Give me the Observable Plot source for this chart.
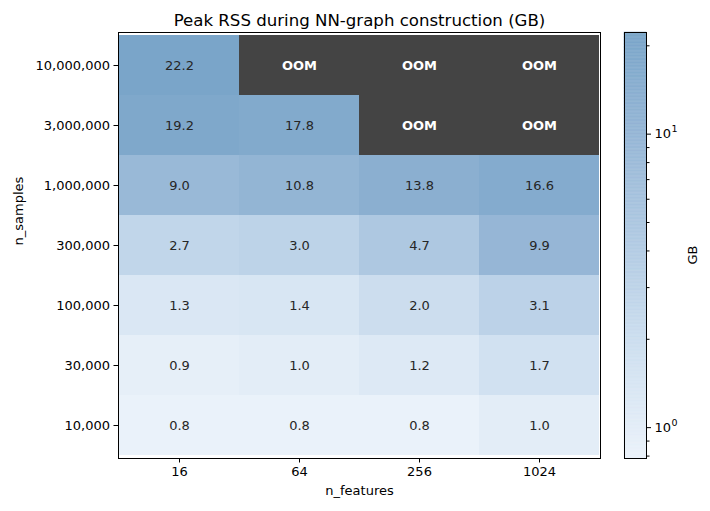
<!DOCTYPE html>
<html>
<head>
<meta charset="utf-8">
<script src="https://cdn.jsdelivr.net/npm/d3@7"></script>
<script src="https://cdn.jsdelivr.net/npm/@observablehq/plot@0.6"></script>
<style>
  body { margin: 0; background: #fff; }
  #chart { position: relative; width: 710px; height: 511px; font-family: "DejaVu Sans", sans-serif; }
  #chart svg { position: absolute; left: 0; top: 0; }
</style>
</head>
<body>
<div id="chart"></div>
<script>
// Grid axes
const features = ["16", "64", "256", "1024"];
const samples = [10000000, 3000000, 1000000, 300000, 100000, 30000, 10000];

// Peak RSS (GB) per n_samples row, one value per n_features column; null = out of memory
const rss10M  = [22.2, null, null, null];
const rss3M   = [19.2, 17.8, null, null];
const rss1M   = [9.0, 10.8, 13.8, 16.6];
const rss300k = [2.7, 3.0, 4.7, 9.9];
const rss100k = [1.3, 1.4, 2.0, 3.1];
const rss30k  = [0.9, 1.0, 1.2, 1.7];
const rss10k  = [0.8, 0.8, 0.8, 1.0];

const rows = [rss10M, rss3M, rss1M, rss300k, rss100k, rss30k, rss10k];
const fmtSamples = d3.format(",");

const table = [];
rows.forEach((vals, i) => vals.forEach((v, j) => {
  table.push({n_samples: fmtSamples(samples[i]), n_features: features[j], gb: v});
}));
const measured = table.filter(d => d.gb != null);
const oom = table.filter(d => d.gb == null);

// Soft, desaturated blue ramp (light to mid blue)
const ramp = d3.piecewise(d3.interpolateRgb, ["#ebf2fa", "#cfe0f0", "#b2cbe3", "#97b7d6", "#7aa5c9"]);
const colorDomain = [0.785, 22.2];
const colorSpec = {type: "log", domain: colorDomain, interpolate: ramp};

const W = 710, H = 511;
const font = {fontFamily: "DejaVu Sans, sans-serif", fontSize: 13};

const main = Plot.plot({
  width: W, height: H,
  marginLeft: 118, marginRight: 110, marginTop: 32, marginBottom: 53,
  style: {...font, color: "#000", background: "transparent"},
  x: {domain: features, padding: 0, label: null},
  y: {domain: samples.map(fmtSamples), padding: 0, label: null},
  color: colorSpec,
  marks: [
    Plot.cell(measured, {x: "n_features", y: "n_samples", fill: "gb", inset: 0}),
    Plot.cell(oom, {x: "n_features", y: "n_samples", fill: "#444444", inset: 0}),
    Plot.text(measured, {x: "n_features", y: "n_samples", text: d => d.gb.toFixed(1), fill: "#262626", fontSize: 13}),
    Plot.text(oom, {x: "n_features", y: "n_samples", text: () => "OOM", fill: "#fff", fontWeight: "bold", fontSize: 13}),
    Plot.frame({stroke: "#000", strokeWidth: 1}),
    Plot.axisX({tickSize: 4.5, tickPadding: 4, fontSize: 13, label: null, stroke: "#000"}),
    Plot.axisY({tickSize: 4.5, tickPadding: 4, fontSize: 13, label: null, stroke: "#000"}),
    Plot.text(["n_features"], {frameAnchor: "bottom", dy: 36, fontSize: 13, fill: "#000"}),
    Plot.text(["n_samples"], {frameAnchor: "left", dx: -100, rotate: -90, fontSize: 13, fill: "#000"}),
    Plot.text(["Peak RSS during NN-graph construction (GB)"], {frameAnchor: "top", lineAnchor: "bottom", dy: -7, fontSize: 16.6, fill: "#000"})
  ]
});

// Vertical colour bar: thin log-spaced bands spanning the colour domain
const lo = Math.log10(colorDomain[0]), hi = Math.log10(colorDomain[1]);
const bands = d3.range(300).map(i => {
  const a = Math.pow(10, lo + (hi - lo) * i / 300);
  const b = Math.pow(10, lo + (hi - lo) * (i + 1) / 300);
  return {y1: a, y2: b, v: Math.sqrt(a * b)};
});
const decades = [1, 10];
const bar = Plot.plot({
  width: W, height: H,
  marginLeft: 624, marginRight: 64, marginTop: 32, marginBottom: 53,
  style: {...font, color: "#000", background: "transparent"},
  x: {domain: [0, 1], axis: null},
  y: {type: "log", domain: colorDomain, label: null},
  color: colorSpec,
  marks: [
    Plot.rect(bands, {x1: 0, x2: 1, y1: "y1", y2: "y2", fill: "v", stroke: "v", strokeWidth: 0.5}),
    Plot.frame({stroke: "#000", strokeWidth: 1}),
    Plot.axisY({anchor: "right", ticks: decades, tickSize: 4, tickPadding: 4, fontSize: 13, stroke: "#000",
      tickFormat: () => "10", label: null}),
    // exponents drawn as raised, smaller text after each "10"
    Plot.text(decades, {x: 1, y: d => d, text: d => String(Math.round(Math.log10(d))), dx: 25, dy: -5,
      textAnchor: "start", fontSize: 9.5, fill: "#000"}),
    Plot.axisY({anchor: "right", ticks: [0.8, 0.9, 2, 3, 4, 5, 6, 7, 8, 9, 20], tickSize: 2.5, text: null, stroke: "#000", label: null}),
    Plot.text(["GB"], {frameAnchor: "right", dx: 46, rotate: -90, fontSize: 13, fill: "#000"})
  ]
});

const root = document.getElementById("chart");
root.appendChild(main);
root.appendChild(bar);
</script>
</body>
</html>
